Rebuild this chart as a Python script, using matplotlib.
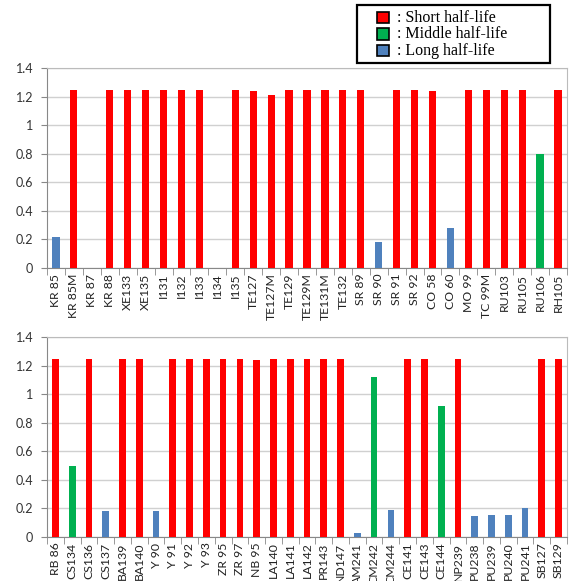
import matplotlib
matplotlib.use("Agg")
import matplotlib.pyplot as plt
from matplotlib.patches import Rectangle
import numpy as np

# ---- data -------------------------------------------------------------
top_labels = ["KR 85", "KR 85M", "KR 87", "KR 88", "XE133", "XE135", "I131", "I132",
              "I133", "I134", "I135", "TE127", "TE127M", "TE129", "TE129M", "TE131M",
              "TE132", "SR 89", "SR 90", "SR 91", "SR 92", "CO 58", "CO 60", "MO 99",
              "TC 99M", "RU103", "RU105", "RU106", "RH105"]
top_values = [0.22, 1.25, 0.0, 1.25, 1.25, 1.25, 1.25, 1.25,
              1.25, 0.0, 1.25, 1.24, 1.21, 1.25, 1.25, 1.25,
              1.25, 1.245, 0.18, 1.25, 1.25, 1.24, 0.28, 1.25,
              1.25, 1.25, 1.25, 0.80, 1.25]
top_class = ["L", "S", "S", "S", "S", "S", "S", "S",
             "S", "S", "S", "S", "S", "S", "S", "S",
             "S", "S", "L", "S", "S", "S", "L", "S",
             "S", "S", "S", "M", "S"]

bottom_labels = ["RB 86", "CS134", "CS136", "CS137", "BA139", "BA140", "Y 90", "Y 91",
                 "Y 92", "Y 93", "ZR 95", "ZR 97", "NB 95", "LA140", "LA141", "LA142",
                 "PR143", "ND147", "AM241", "CM242", "CM244", "CE141", "CE143", "CE144",
                 "NP239", "PU238", "PU239", "PU240", "PU241", "SB127", "SB129"]
bottom_values = [1.25, 0.50, 1.25, 0.18, 1.25, 1.25, 0.18, 1.245,
                 1.25, 1.25, 1.245, 1.25, 1.24, 1.25, 1.25, 1.25,
                 1.25, 1.25, 0.03, 1.12, 0.19, 1.25, 1.25, 0.92,
                 1.25, 0.15, 0.155, 0.155, 0.20, 1.25, 1.25]
bottom_class = ["S", "M", "S", "L", "S", "S", "L", "S",
                "S", "S", "S", "S", "S", "S", "S", "S",
                "S", "S", "L", "M", "L", "S", "S", "M",
                "S", "L", "L", "L", "L", "S", "S"]

classes = ["S", "M", "L"]
colors = {"S": "#FF0000", "M": "#00B050", "L": "#4F81BD"}
legend_labels = [": Short half-life", ": Middle half-life", ": Long half-life"]

plt.rcParams["font.family"] = ["Lato", "DejaVu Sans"]

W, H = 572, 581


def px(x, y):
    # pixel position (from top-left) -> figure fraction
    return x / W, 1 - y / H


def draw_panel(ax, labels, values, cls):
    n = len(labels)
    x = np.arange(n)
    ax.bar(x, values, width=0.4, color=[colors[c] for c in cls], zorder=3)
    ax.set_xlim(-0.5, n - 0.5)
    ax.set_ylim(0, 1.4)
    ax.set_yticks(np.arange(0, 1.41, 0.2))
    ax.set_yticklabels(["0", "0.2", "0.4", "0.6", "0.8", "1", "1.2", "1.4"], fontsize=9,
                       color="#333333")
    ax.set_xticks(x)
    ax.set_xticklabels(labels, rotation=90, fontsize=8.8, color="#222222")
    ax.set_xticks(np.arange(-0.5, n, 1), minor=True)
    ax.tick_params(axis="x", which="major", length=0, pad=4)
    ax.tick_params(axis="x", which="minor", length=5, color="#888888")
    ax.tick_params(axis="y", length=4, color="#888888", pad=6)
    ax.grid(axis="y", color="#D0D0D0", linewidth=1, zorder=0)
    ax.set_axisbelow(True)
    for side in ["top", "right"]:
        ax.spines[side].set_color("#BBBBBB")
    for side in ["left", "bottom"]:
        ax.spines[side].set_color("#888888")


fig = plt.figure(figsize=(5.72, 5.81), dpi=100)
ax1 = fig.add_axes([0.0822, 0.5387, 0.909, 0.344])
ax2 = fig.add_axes([0.0822, 0.0757, 0.909, 0.344])
draw_panel(ax1, top_labels, top_values, top_class)
draw_panel(ax2, bottom_labels, bottom_values, bottom_class)

# hand-drawn legend box, like the original figure
x0, y0 = px(357, 63)
x1, y1 = px(550, 5)
fig.patches.append(Rectangle((x0, y0), x1 - x0, y1 - y0, transform=fig.transFigure,
                             facecolor="white", edgecolor="black", linewidth=1.6, zorder=10))
for i, (k, lab) in enumerate(zip(classes, legend_labels)):
    cy = 17.5 + i * 16.5
    sx, sy = px(377, cy + 5.5)
    sw = 12 / W
    sh = 11 / H
    fig.patches.append(Rectangle((sx, sy), sw, sh, transform=fig.transFigure,
                                 facecolor=colors[k], edgecolor="black", linewidth=1.2,
                                 zorder=11))
    tx, ty = px(397, cy + 0.5)
    fig.text(tx, ty, lab, ha="left", va="center", fontsize=11.5,
             family="Liberation Serif", zorder=12)

fig.savefig("out.png", dpi=100)
